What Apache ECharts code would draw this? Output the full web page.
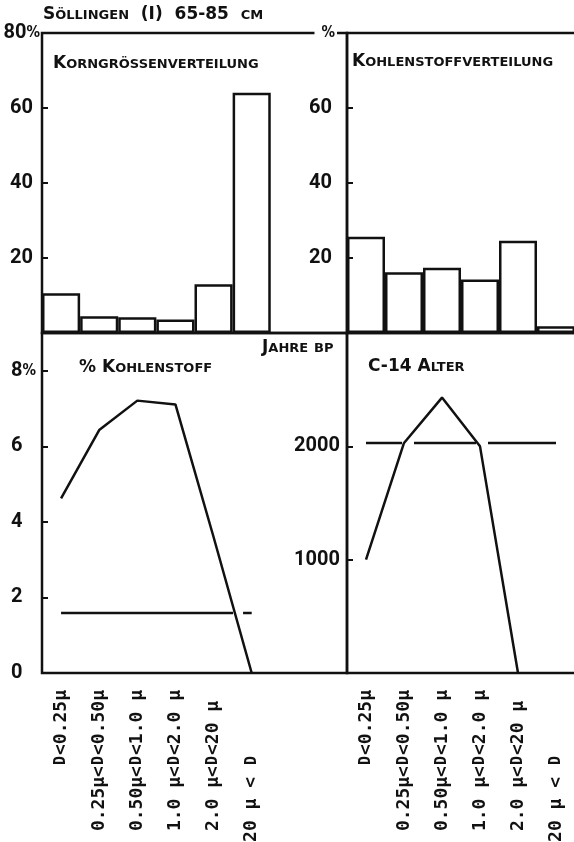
<!DOCTYPE html>
<html><head><meta charset="utf-8">
<script src="https://cdn.jsdelivr.net/npm/echarts@6/dist/echarts.min.js"></script>
<style>html,body{margin:0;padding:0;background:#fff}#c{width:574px;height:842px}</style>
</head><body><div id="c"></div>
<script>
// ---- data ----
const sizeClasses = ['D<0.25µ', '0.25µ<D<0.50µ', '0.50µ<D<1.0 µ', '1.0 µ<D<2.0 µ', '2.0 µ<D<20 µ', '20 µ < D'];
const grainShare = [10.6, 4.5, 4.2, 3.6, 13.0, 64.1];      // Korngrössenverteilung %
const carbonShare = [25.7, 16.2, 17.4, 14.3, 24.6, 1.8];   // Kohlenstoffverteilung %
const carbonPct = [4.62, 6.43, 7.21, 7.11, 3.6, 0];        // % Kohlenstoff
const c14Age = [1000, 2030, 2430, 2000, 0];                // C-14 Alter, Jahre BP
const carbonPctBulk = [1.59];                              // whole-sample level
const c14AgeBulk = [2030];                                 // whole-sample age
const shareTicks = [20, 40, 60, 80];
const shareTickLabelsL = ['20', '40', '60', '80%'];
const shareTickLabelsR = ['20', '40', '60', '%'];
const pctTicks = [0, 2, 4, 6, 8];
const pctTickLabels = ['0', '2', '4', '6', '8%'];
const ageTicks = [1000, 2000];
const ageTickLabels = ['1000', '2000'];

// ---- styling ----
const INK = '#111';
const numFont = "Roboto, 'DejaVu Sans Condensed', sans-serif";
const capFont = "'DejaVu Sans', sans-serif";
const monoFont = "'DejaVu Sans Mono', monospace";
const axisCats = sizeClasses.concat(['', '']);

// wraps tick label: digits in {n|..}/{m|..}, percent sign in its own token
function lab(ticks, labels, numStyle) {
  return v => {
    const i = ticks.indexOf(v);
    if (i < 0) return '';
    const t = labels[i];
    const k = t.indexOf('%');
    if (k < 0) return '{' + numStyle + '|' + t + '}';
    const num = t.slice(0, k);
    return (num ? '{m|' + num + '}' : '') + '{p|%}';
  };
}
// pad the end so the "D" of every class label lines up; D drawn as a small capital
function padD(v) {
  if (!v) return '';
  const j = v.lastIndexOf('D');
  const after = v.length - 1 - j;
  const tail = v.slice(j + 1) + ' '.repeat(Math.max(0, 6 - after));
  const head = v.slice(0, j);
  return (head ? '{t|' + head + '}' : '') + '{d|D}' + (tail ? '{t|' + tail + '}' : '');
}
const monoRich = {
  t: {fontFamily: monoFont, fontWeight: 'bold', fontSize: 18, color: INK},
  d: {fontFamily: monoFont, fontWeight: 'bold', fontSize: 15, color: INK, padding: [0, 1, 0, 1]}
};
const rich = {
  B: {fontFamily: capFont, fontWeight: 'bold', fontSize: 17, color: INK, verticalAlign: 'bottom'},
  s: {fontFamily: capFont, fontWeight: 'bold', fontSize: 13, color: INK, verticalAlign: 'bottom', padding: [0, 0, 1, 0]}
};
function capTitle(text, left, top) {
  return {text, left, top, padding: 0, textStyle: {rich, fontSize: 17, fontFamily: capFont, fontWeight: 'bold', color: INK}};
}
const gridBase = {show: true, borderColor: INK, borderWidth: 2.5, backgroundColor: 'transparent', containLabel: false, outerBoundsMode: 'none'};

function xAx(gi, showLabels) {
  return {
    type: 'category', gridIndex: gi, data: axisCats, boundaryGap: true,
    axisLine: {show: false}, axisTick: {show: false}, splitLine: {show: false},
    axisLabel: showLabels ? {
      show: true, interval: 0, rotate: 90, margin: 17, color: INK,
      fontFamily: monoFont, fontWeight: 'bold', fontSize: 18, formatter: padD, rich: monoRich
    } : {show: false}
  };
}
function numRich(padRight, pctStyle) {
  const base = {fontFamily: numFont, fontWeight: 'bold', fontSize: 20, color: INK};
  return {
    n: Object.assign({}, base, {padding: [0, padRight, 0, 0]}),
    m: Object.assign({}, base),
    p: Object.assign({}, base, {fontSize: 15, fontFamily: "'DejaVu Sans Condensed', sans-serif"}, pctStyle || {})
  };
}
function yAx(gi, min, max, interval, fmt, labelOpts) {
  return {
    type: 'value', gridIndex: gi, min, max, interval,
    axisLine: {show: false}, splitLine: {show: false},
    axisTick: {show: true, inside: true, length: 6, lineStyle: {color: INK, width: 2}},
    axisLabel: Object.assign({color: INK, fontFamily: numFont, fontWeight: 'bold', fontSize: 20, formatter: fmt}, labelOpts)
  };
}

const option = {
  animation: false,
  backgroundColor: '#fff',
  title: [
    capTitle('{B|S}{s|ÖLLINGEN}  {B|(I)}  {B|65-85}  {s|CM}', 43, 6),
    capTitle('{B|K}{s|ORNGRÖSSENVERTEILUNG}', 53, 55),
    capTitle('{B|K}{s|OHLENSTOFFVERTEILUNG}', 352, 53),
    capTitle('{B|%} {B|K}{s|OHLENSTOFF}', 79, 359),
    capTitle('{B|J}{s|AHRE} {s|BP}', 262, 339),
    capTitle('{B|C-14} {B|A}{s|LTER}', 368, 358)
  ],
  grid: [
    Object.assign({left: 42, top: 33, width: 305, height: 300}, gridBase),
    Object.assign({left: 347, top: 33, width: 304, height: 300}, gridBase),
    Object.assign({left: 42, top: 333, width: 305, height: 340}, gridBase),
    Object.assign({left: 347, top: 333, width: 304, height: 340}, gridBase)
  ],
  xAxis: [xAx(0, false), xAx(1, false), xAx(2, true), xAx(3, true)],
  yAxis: [
    yAx(0, 0, 80, 20, lab(shareTicks, shareTickLabelsL, 'n'), {margin: 2, rich: numRich(7)}),
    yAx(1, 0, 80, 20, lab(shareTicks, shareTickLabelsR, 'n'),
        {margin: 10, rich: numRich(5, {backgroundColor: '#fff', padding: [2, 2, 2, 7]})}),
    yAx(2, 0, 9, 2, lab(pctTicks, pctTickLabels, 'm'), {margin: 31, align: 'left', rich: numRich(0)}),
    yAx(3, 0, 3000, 1000, lab(ageTicks, ageTickLabels, 'm'), {margin: 7, rich: numRich(0)})
  ],
  series: [
    {type: 'bar', xAxisIndex: 0, yAxisIndex: 0, data: grainShare, barCategoryGap: 0,
     itemStyle: {color: 'rgba(255,255,255,0)', borderColor: INK, borderWidth: 2.5}},
    {type: 'bar', xAxisIndex: 1, yAxisIndex: 1, data: carbonShare, barCategoryGap: 0,
     itemStyle: {color: 'rgba(255,255,255,0)', borderColor: INK, borderWidth: 2.5}},
    {type: 'line', xAxisIndex: 2, yAxisIndex: 2, data: carbonPct, symbol: 'none',
     lineStyle: {color: INK, width: 2.5}},
    {type: 'line', xAxisIndex: 2, yAxisIndex: 2, data: sizeClasses.map(() => carbonPctBulk[0]), symbol: 'none',
     lineStyle: {color: INK, width: 2.5, type: [172, 10]}},
    {type: 'line', xAxisIndex: 3, yAxisIndex: 3, data: c14Age, symbol: 'none',
     lineStyle: {color: INK, width: 2.5}},
    {type: 'line', xAxisIndex: 3, yAxisIndex: 3, data: sizeClasses.map(() => c14AgeBulk[0]), symbol: 'none',
     lineStyle: {color: INK, width: 2.5, type: [36, 12, 62, 12, 80]}}
  ]
};
const chart = echarts.init(document.getElementById('c'), null, {renderer: 'canvas'});
chart.setOption(option);
</script>
</body></html>
